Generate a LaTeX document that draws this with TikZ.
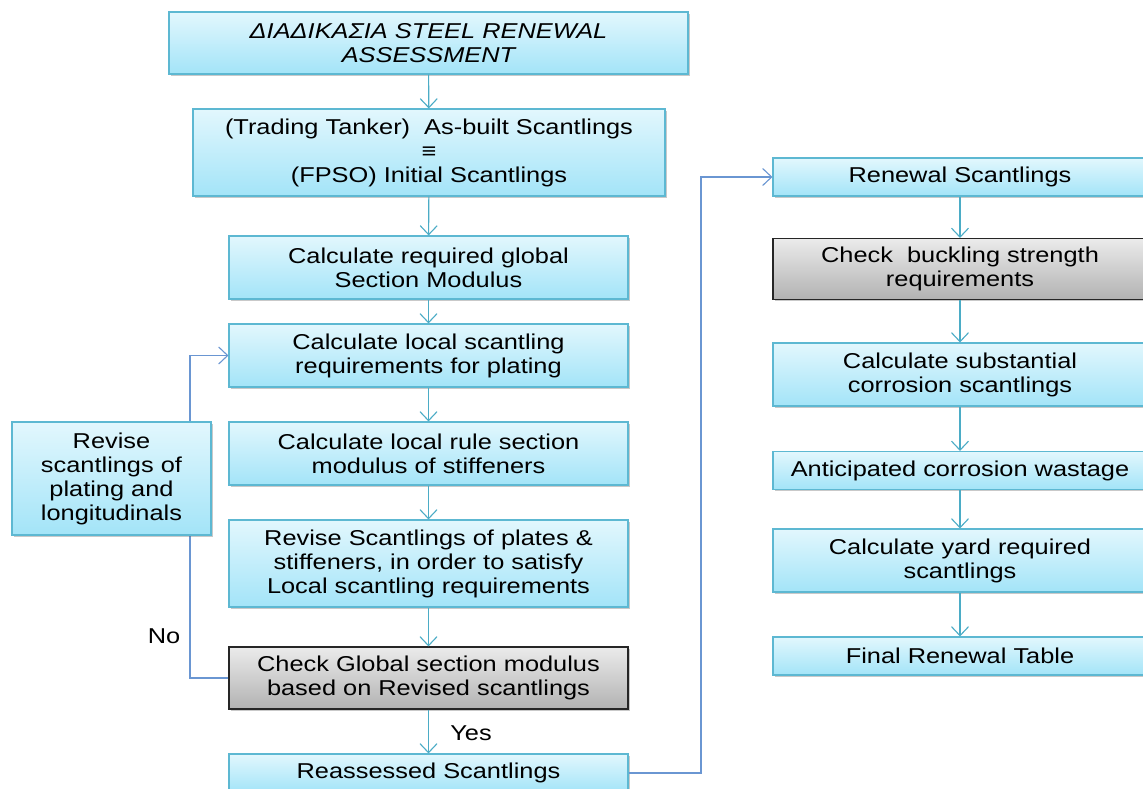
\documentclass[tikz,border=0pt]{standalone}
\usepackage{fontspec}
\setmainfont{Liberation Sans}[FakeStretch=1.18]
\usetikzlibrary{arrows.meta,shadows}

\definecolor{boxTop}{HTML}{E2F7FD}
\definecolor{boxBot}{HTML}{A3E4F8}
\definecolor{boxEdge}{HTML}{5DB8D2}
\definecolor{greyTop}{HTML}{EBEBEB}
\definecolor{greyBot}{HTML}{B2B2B2}
\definecolor{flowLine}{HTML}{4BACC6}
\definecolor{loopLine}{HTML}{6A96D2}

\tikzset{
  stage/.style={draw=boxEdge, line width=1.1pt, top color=boxTop, bottom color=boxBot,
    rectangle, align=center, inner sep=2pt,
    drop shadow={shadow xshift=1.6pt, shadow yshift=-1.8pt, opacity=0.35, fill=black!60},
    font=\fontsize{21.5}{24}\selectfont},
  checkbox/.style={stage, draw=black!85, top color=greyTop, bottom color=greyBot},
  flow/.style={draw=flowLine, line width=1.1pt, -{Straight Barb[length=9pt,width=17pt]}},
  back/.style={draw=loopLine, line width=1.1pt, -{Straight Barb[length=9pt,width=17pt]}},
  tag/.style={font=\fontsize{21.5}{24}\selectfont, inner sep=0pt}
}

\begin{document}
\begin{tikzpicture}[x=1pt, y=-1pt]
\useasboundingbox (0,0) rectangle (1143,788);
\clip (0,0) rectangle (1143,788);
\fill[white] (0,0) rectangle (1143,788);

% helper x positions for the two routed connectors
\coordinate (lx) at (190,0);
\coordinate (rx) at (701,0);

% loop connector drawn first so the side box covers it
\node[stage, minimum width=399pt, minimum height=63pt] (local) at (428.5,355.5)
  {Calculate local scantling\\requirements for plating};
\node[checkbox, minimum width=399pt, minimum height=62pt] (check) at (428.5,678)
  {Check Global section modulus\\based on Revised scantlings};
\draw[back] (check.west) -- (check.west -| lx) -- (local.west -| lx) -- (local.west);

% left column
\node[stage, minimum width=519pt, minimum height=62pt] (title) at (428.5,43)
  {\itshape ΔΙΑΔΙΚΑΣΙΑ STEEL RENEWAL\\\itshape ASSESSMENT};
\node[stage, minimum width=472pt, minimum height=87pt] (tanker) at (429,152.5)
  {(Trading Tanker)\ \ As-built Scantlings\\≡\\(FPSO) Initial Scantlings};
\node[stage, minimum width=399pt, minimum height=63pt] (glob) at (428.5,267.5)
  {Calculate required global\\Section Modulus};
\node[stage, minimum width=399pt, minimum height=63pt] (rule) at (428.5,453.5)
  {Calculate local rule section\\modulus of stiffeners};
\node[stage, minimum width=399pt, minimum height=87pt] (plates) at (428.5,563.5)
  {Revise Scantlings of plates \&\\stiffeners, in order to satisfy\\Local scantling requirements};
\node[stage, minimum width=399pt, minimum height=38pt] (reass) at (428.5,773)
  {Reassessed Scantlings};
\node[stage, minimum width=199pt, minimum height=113pt] (revise) at (111.5,478.5)
  {Revise\\scantlings of\\plating and\\longitudinals};

% right column
\node[stage, minimum width=374pt, minimum height=38pt] (renew) at (960,177)
  {Renewal Scantlings};
\node[checkbox, minimum width=374pt, minimum height=61pt] (buck) at (960,269)
  {Check\ \ buckling strength\\requirements};
\node[stage, minimum width=374pt, minimum height=63pt] (subst) at (960,374.5)
  {Calculate substantial\\corrosion scantlings};
\node[stage, minimum width=374pt, minimum height=38pt] (antic) at (960,470.5)
  {Anticipated corrosion wastage};
\node[stage, minimum width=374pt, minimum height=63pt] (yard) at (960,560.5)
  {Calculate yard required\\scantlings};
\node[stage, minimum width=374pt, minimum height=38pt] (final) at (960,656)
  {Final Renewal Table};

% straight flow arrows
\draw[flow] (title) -- (tanker);
\draw[flow] (tanker) -- (glob);
\draw[flow] (glob) -- (local);
\draw[flow] (local) -- (rule);
\draw[flow] (rule) -- (plates);
\draw[flow] (plates) -- (check);
\draw[flow] (check) -- (reass);
\draw[flow] (renew) -- (buck);
\draw[flow] (buck) -- (subst);
\draw[flow] (subst) -- (antic);
\draw[flow] (antic) -- (yard);
\draw[flow] (yard) -- (final);

% hand-over to the renewal column
\draw[back] (reass.east) -- (reass.east -| rx) -- (renew.west -| rx) -- (renew.west);

% decision labels
\node[tag] (no) at (164,636) {No};
\node[tag] (yes) at (471,733) {Yes};
\end{tikzpicture}
\end{document}
